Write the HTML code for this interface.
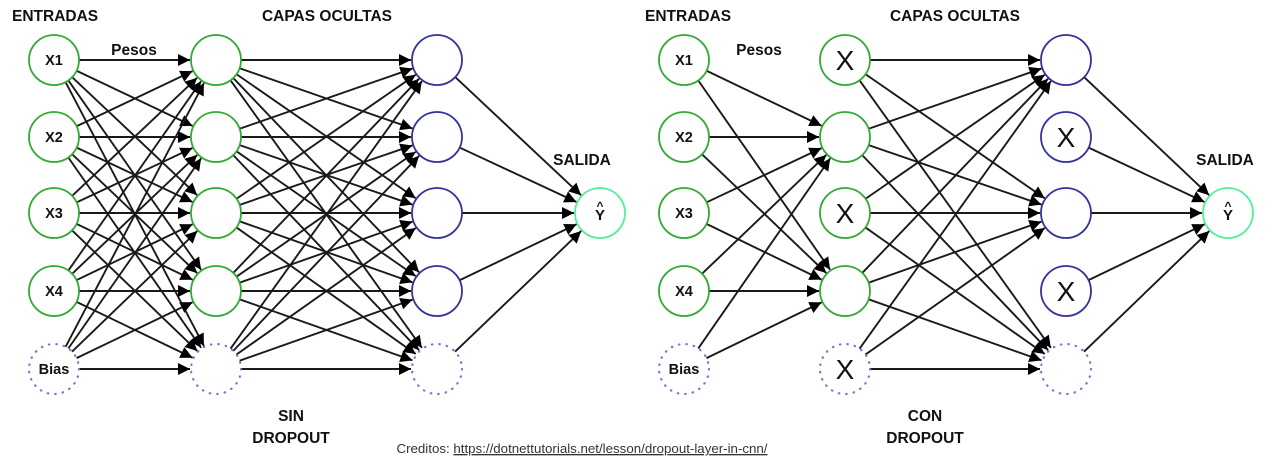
<!DOCTYPE html>
<html><head><meta charset="utf-8"><style>
body{margin:0;background:#fff;width:1280px;height:470px;overflow:hidden}
text{font-family:"Liberation Sans",sans-serif}
</style></head><body>
<svg id="s" width="1280" height="470" xmlns="http://www.w3.org/2000/svg">
<defs>
<marker id="b" viewBox="0 0 10 10" refX="10" refY="5" markerWidth="17" markerHeight="12" markerUnits="userSpaceOnUse" orient="auto"><path d="M0,0L10,5L0,10z" fill="#000"/></marker></defs>
<g id="lines"></g><g id="nodes"></g>
<g font-weight="bold" font-size="15.5" fill="#111">
<text x="12" y="21">ENTRADAS</text>
<text x="327" y="21" text-anchor="middle">CAPAS OCULTAS</text>
<text x="134" y="55" text-anchor="middle">Pesos</text>
<text x="582" y="165" text-anchor="middle">SALIDA</text>
<text x="291" y="421" text-anchor="middle">SIN</text>
<text x="291" y="443" text-anchor="middle">DROPOUT</text>
<text x="645" y="21">ENTRADAS</text>
<text x="955" y="21" text-anchor="middle">CAPAS OCULTAS</text>
<text x="759" y="55" text-anchor="middle">Pesos</text>
<text x="1225" y="165" text-anchor="middle">SALIDA</text>
<text x="925" y="421" text-anchor="middle">CON</text>
<text x="925" y="443" text-anchor="middle">DROPOUT</text>
</g>
<text x="582" y="453" text-anchor="middle" font-size="13.3" fill="#333">Creditos: <tspan text-decoration="underline">https://dotnettutorials.net/lesson/dropout-layer-in-cnn/</tspan></text>
</svg>
<script>
var NS="http://www.w3.org/2000/svg",L=document.getElementById("lines"),N=document.getElementById("nodes");
var Y=[60,137,213,291,369],R=25;
function el(t,a,p){var e=document.createElementNS(NS,t);for(var k in a)e.setAttribute(k,a[k]);p.appendChild(e);return e;}
function line(x1,y1,x2,y2){var dx=x2-x1,dy=y2-y1,d=Math.sqrt(dx*dx+dy*dy),ux=dx/d,uy=dy/d;
el("line",{x1:x1+ux*R,y1:y1+uy*R,x2:x2-ux*(R+1),y2:y2-uy*(R+1),stroke:"#1a1a1a","stroke-width":1.9,"marker-end":"url(#b)"},L);}
function node(x,y,c,dot,label,big){
el("circle",{cx:x,cy:y,r:R,fill:dot?"none":"#fff",stroke:c,"stroke-width":dot?2.2:1.8,"stroke-dasharray":dot?"0.5 7":"none","stroke-linecap":"round"},N);
if(label){
if(big){var t=el("text",{x:x,y:y+10,"text-anchor":"middle","font-size":28,fill:"#111"},N);t.textContent=label;}
else{var t=el("text",{x:x,y:y+5,"text-anchor":"middle","font-size":14.5,"font-weight":"bold",fill:"#111"},N);t.textContent=label;}}}
function net(x0,x1,x2,x3,drop){
var xs=[0,1,2,3,4];
var h1T=drop?[1,3]:xs, h2T=drop?[0,2,4]:xs;
xs.forEach(function(i){h1T.forEach(function(j){line(x0,Y[i],x1,Y[j]);});});
xs.forEach(function(i){h2T.forEach(function(j){line(x1,Y[i],x2,Y[j]);});});
xs.forEach(function(i){line(x2,Y[i],x3,213);});
var lab=["X1","X2","X3","X4","Bias"];
xs.forEach(function(i){node(x0,Y[i],i==4?"#77c":"#3a3",i==4,lab[i]);});
xs.forEach(function(i){node(x1,Y[i],i==4?"#77c":"#3a3",i==4,drop&&(i%2==0)?"X":"",true);});
xs.forEach(function(i){node(x2,Y[i],i==4?"#77c":"#339",i==4,drop&&(i==1||i==3)?"X":"",true);});
node(x3,213,"#5e9",false,"");
var t=el("text",{x:x3,y:220,"text-anchor":"middle","font-size":15,"font-weight":"bold",fill:"#111"},N);t.textContent="Y";
var c=el("text",{x:x3,y:210,"text-anchor":"middle","font-size":12,"font-weight":"bold",fill:"#111"},N);c.textContent="^";
}
net(54,216,437,600,false);
net(684,845,1066,1228,true);
</script>
</body></html>
